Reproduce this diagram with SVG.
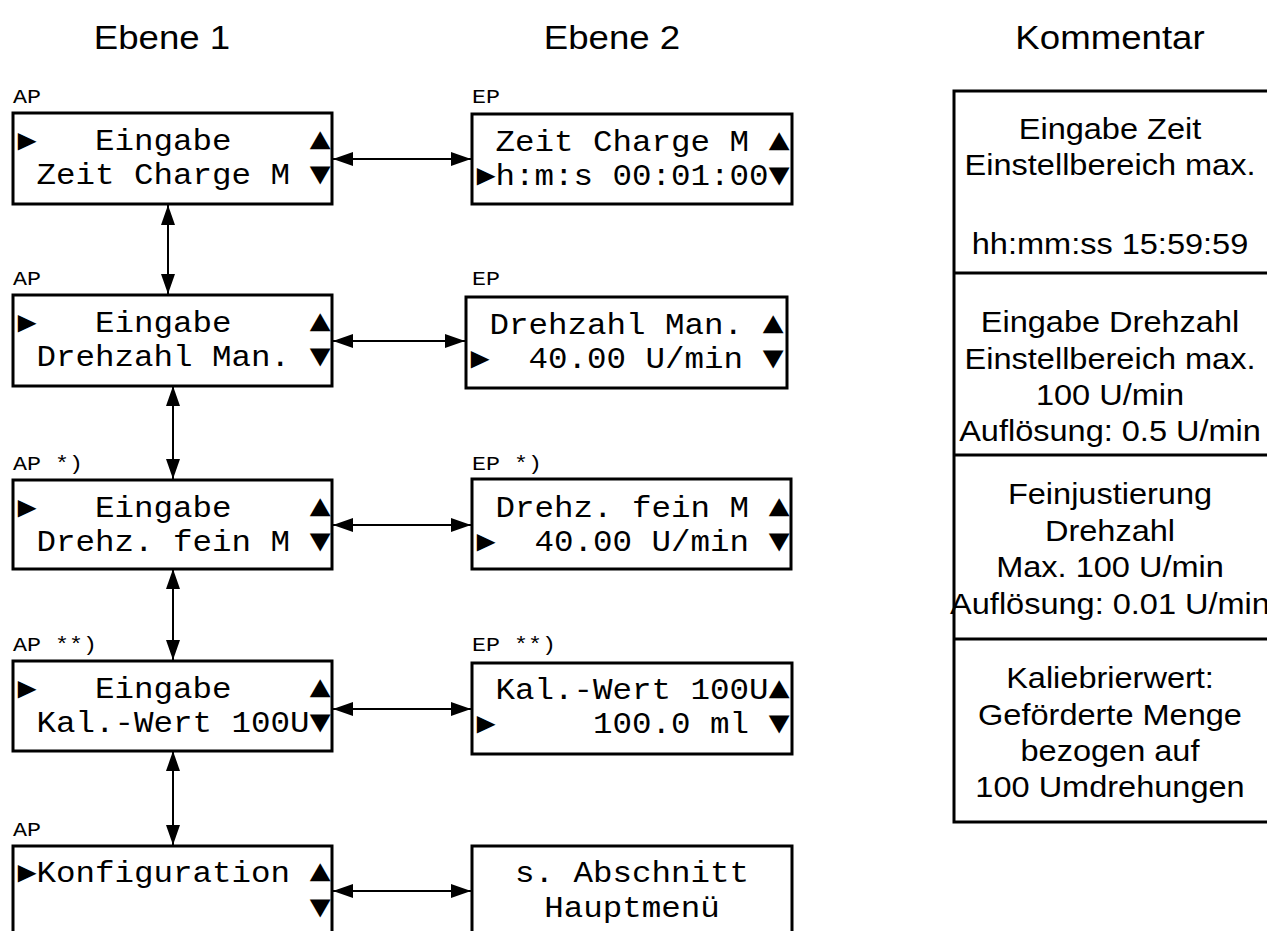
<svg xmlns="http://www.w3.org/2000/svg" width="1267" height="931" viewBox="0 0 1267 931">
<style>
.box{fill:#fff;stroke:#000;stroke-width:3}
.m{font-family:"Liberation Mono","DejaVu Sans Mono",monospace;font-size:29.3px;fill:#000;white-space:pre}
.t{font-size:32px}
.lbl{font-family:"Liberation Mono","DejaVu Sans Mono",monospace;font-size:21px;fill:#000;white-space:pre}
.s{font-family:"Liberation Sans",Arial,sans-serif;font-size:29.3px;fill:#000;text-anchor:middle}
.h{font-family:"Liberation Sans",Arial,sans-serif;font-size:33px;fill:#000;text-anchor:middle}
.c{stroke:#000;stroke-width:2;fill:none;marker-start:url(#ah);marker-end:url(#ah)}
.tbl{fill:none;stroke:#000;stroke-width:3}
</style>
<defs>
<marker id="ah" markerUnits="userSpaceOnUse" markerWidth="20" markerHeight="14" refX="20" refY="7" orient="auto-start-reverse"><path d="M0,0 L20,7 L0,14 Z" fill="#000"/></marker>
</defs>
<rect width="1267" height="931" fill="#fff"/>
<g id="headers">
<text class="h" transform="translate(162 49) scale(1.11 1)">Ebene 1</text>
<text class="h" transform="translate(612 49) scale(1.11 1)">Ebene 2</text>
<text class="h" transform="translate(1110 49) scale(1.11 1)">Kommentar</text>
</g>
<g id="connectors">
<line class="c" x1="333" y1="159" x2="471" y2="159"/>
<line class="c" x1="333" y1="341" x2="465" y2="341"/>
<line class="c" x1="333" y1="525" x2="471" y2="525"/>
<line class="c" x1="333" y1="709" x2="471" y2="709"/>
<line class="c" x1="333" y1="891" x2="471" y2="891"/>
<line class="c" x1="168" y1="205" x2="168" y2="294"/>
<line class="c" x1="173" y1="386" x2="173" y2="479"/>
<line class="c" x1="173" y1="569" x2="173" y2="660"/>
<line class="c" x1="173" y1="751" x2="173" y2="845"/>
</g>
<g id="a1">
<text class="lbl" transform="translate(13 103) scale(1.11 1)">AP</text>
<rect class="box" x="13" y="113" width="319" height="91"/>
<text class="m" xml:space="preserve" transform="translate(17 150) scale(1.11 1)">►   Eingabe    <tspan class="t">▲</tspan></text>
<text class="m" xml:space="preserve" transform="translate(17 184) scale(1.11 1)"> Zeit Charge M <tspan class="t">▼</tspan></text>
</g>
<g id="e1">
<text class="lbl" transform="translate(472 103) scale(1.11 1)">EP</text>
<rect class="box" x="472" y="114" width="320" height="90"/>
<text class="m" xml:space="preserve" transform="translate(476 151) scale(1.11 1)"> Zeit Charge M <tspan class="t">▲</tspan></text>
<text class="m" xml:space="preserve" transform="translate(476 185) scale(1.11 1)">►h:m:s 00:01:00<tspan class="t">▼</tspan></text>
</g>
<g id="a2">
<text class="lbl" transform="translate(13 285) scale(1.11 1)">AP</text>
<rect class="box" x="13" y="295" width="319" height="91"/>
<text class="m" xml:space="preserve" transform="translate(17 332) scale(1.11 1)">►   Eingabe    <tspan class="t">▲</tspan></text>
<text class="m" xml:space="preserve" transform="translate(17 366) scale(1.11 1)"> Drehzahl Man. <tspan class="t">▼</tspan></text>
</g>
<g id="e2">
<text class="lbl" transform="translate(472 285) scale(1.11 1)">EP</text>
<rect class="box" x="466" y="297" width="321" height="91"/>
<text class="m" xml:space="preserve" transform="translate(470 334) scale(1.11 1)"> Drehzahl Man. <tspan class="t">▲</tspan></text>
<text class="m" xml:space="preserve" transform="translate(470 368) scale(1.11 1)">►  40.00 U/min <tspan class="t">▼</tspan></text>
</g>
<g id="a3">
<text class="lbl" xml:space="preserve" transform="translate(13 470) scale(1.11 1)">AP *)</text>
<rect class="box" x="13" y="480" width="319" height="89"/>
<text class="m" xml:space="preserve" transform="translate(17 517) scale(1.11 1)">►   Eingabe    <tspan class="t">▲</tspan></text>
<text class="m" xml:space="preserve" transform="translate(17 551) scale(1.11 1)"> Drehz. fein M <tspan class="t">▼</tspan></text>
</g>
<g id="e3">
<text class="lbl" xml:space="preserve" transform="translate(472 470) scale(1.11 1)">EP *)</text>
<rect class="box" x="472" y="479" width="319" height="90"/>
<text class="m" xml:space="preserve" transform="translate(476 517) scale(1.11 1)"> Drehz. fein M <tspan class="t">▲</tspan></text>
<text class="m" xml:space="preserve" transform="translate(476 551) scale(1.11 1)">►  40.00 U/min <tspan class="t">▼</tspan></text>
</g>
<g id="a4">
<text class="lbl" xml:space="preserve" transform="translate(13 651) scale(1.11 1)">AP **)</text>
<rect class="box" x="13" y="661" width="319" height="90"/>
<text class="m" xml:space="preserve" transform="translate(17 698) scale(1.11 1)">►   Eingabe    <tspan class="t">▲</tspan></text>
<text class="m" xml:space="preserve" transform="translate(17 732) scale(1.11 1)"> Kal.-Wert 100U<tspan class="t">▼</tspan></text>
</g>
<g id="e4">
<text class="lbl" xml:space="preserve" transform="translate(472 651) scale(1.11 1)">EP **)</text>
<rect class="box" x="472" y="663" width="320" height="91"/>
<text class="m" xml:space="preserve" transform="translate(476 699) scale(1.11 1)"> Kal.-Wert 100U<tspan class="t">▲</tspan></text>
<text class="m" xml:space="preserve" transform="translate(476 733) scale(1.11 1)">►     100.0 ml <tspan class="t">▼</tspan></text>
</g>
<g id="a5">
<text class="lbl" transform="translate(13 836) scale(1.11 1)">AP</text>
<rect class="box" x="13" y="846" width="319" height="100"/>
<text class="m" xml:space="preserve" transform="translate(17 882) scale(1.11 1)">►Konfiguration <tspan class="t">▲</tspan></text>
<text class="m" xml:space="preserve" transform="translate(17 917) scale(1.11 1)">               <tspan class="t">▼</tspan></text>
</g>
<g id="e5">
<rect class="box" x="472" y="846" width="320" height="100"/>
<text class="m" text-anchor="middle" transform="translate(632 882) scale(1.11 1)">s. Abschnitt</text>
<text class="m" text-anchor="middle" transform="translate(632 917) scale(1.11 1)">Hauptmenü</text>
</g>
<g id="kommentar">
<rect class="tbl" x="954" y="91" width="400" height="731"/>
<line class="tbl" x1="954" y1="273" x2="1300" y2="273"/>
<line class="tbl" x1="954" y1="455" x2="1300" y2="455"/>
<line class="tbl" x1="954" y1="639" x2="1300" y2="639"/>
<text class="s" transform="translate(1110 139) scale(1.11 1)">Eingabe Zeit</text>
<text class="s" transform="translate(1110 175) scale(1.11 1)">Einstellbereich max.</text>
<text class="s" transform="translate(1110 254) scale(1.11 1)">hh:mm:ss 15:59:59</text>
<text class="s" transform="translate(1110 332) scale(1.11 1)">Eingabe Drehzahl</text>
<text class="s" transform="translate(1110 369) scale(1.11 1)">Einstellbereich max.</text>
<text class="s" transform="translate(1110 405) scale(1.11 1)">100 U/min</text>
<text class="s" transform="translate(1110 441) scale(1.11 1)">Auflösung: 0.5 U/min</text>
<text class="s" transform="translate(1110 504) scale(1.11 1)">Feinjustierung</text>
<text class="s" transform="translate(1110 541) scale(1.11 1)">Drehzahl</text>
<text class="s" transform="translate(1110 577) scale(1.11 1)">Max. 100 U/min</text>
<text class="s" transform="translate(1110 614) scale(1.11 1)">Auflösung: 0.01 U/min</text>
<text class="s" transform="translate(1110 688) scale(1.11 1)">Kaliebrierwert:</text>
<text class="s" transform="translate(1110 725) scale(1.11 1)">Geförderte Menge</text>
<text class="s" transform="translate(1110 761) scale(1.11 1)">bezogen auf</text>
<text class="s" transform="translate(1110 797) scale(1.11 1)">100 Umdrehungen</text>
</g>
</svg>
